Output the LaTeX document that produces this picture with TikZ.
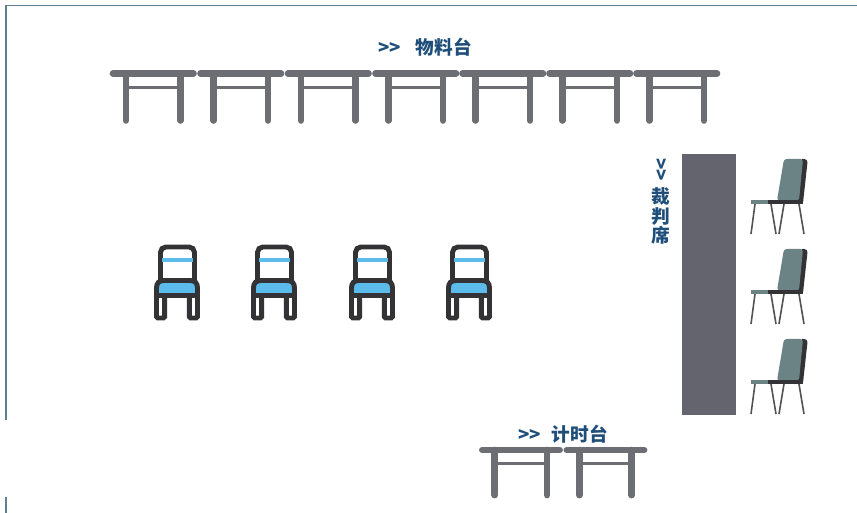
\documentclass[tikz,border=0pt]{standalone}
\usepackage{fontspec}
\usepackage{xcolor}
\setmainfont{Noto Sans CJK SC}
\usetikzlibrary{positioning}
\definecolor{labelblue}{RGB}{30, 78, 121}
\definecolor{deskgray}{RGB}{109, 110, 116}
\definecolor{benchgray}{RGB}{99, 100, 110}
\definecolor{chairline}{RGB}{51, 51, 53}
\definecolor{chairblue}{RGB}{91, 188, 236}
\definecolor{chairgreen}{RGB}{108, 131, 134}
\definecolor{frameblue}{RGB}{96, 128, 145}
\tikzset{
    zonelabel/.style={text=labelblue, font=\bfseries\fontsize{14pt}{14.6pt}\selectfont, inner sep=0pt, align=center},
    deskunit/.pic={
        \draw[deskgray, line width=5pt, line cap=round] (17.5,0) -- (17.5,47);
        \draw[deskgray, line width=5pt, line cap=round] (72,0) -- (72,47);
        \draw[deskgray, line width=2.8pt] (17.5,14) -- (72,14);
        \draw[deskgray, line width=5pt, line cap=round] (4.5,0) -- (85,0);
    },
    bluechair/.pic={
        \draw[chairline, line width=3.7pt, fill=white, rounded corners=1pt] (2.5,48) rectangle (10.7,73);
        \draw[chairline, line width=3.7pt, fill=white, rounded corners=1pt] (35.3,48) rectangle (43.5,73);
        \draw[chairline, line width=3.7pt, fill=white, rounded corners=4pt] (6.5,40) -- (6.5,2) -- (40.5,2) -- (40.5,40);
        \draw[chairblue, line width=3.2pt] (8,15) -- (39,15);
        \draw[chairline, line width=3.7pt, fill=chairblue] (2.5,50.5) -- (2.5,43) .. controls (2.5,38) and (5,35.5) .. (10,35.5) -- (36,35.5) .. controls (41,35.5) and (43.5,38) .. (43.5,43) -- (43.5,50.5) -- cycle;
    },
    sidechair/.pic={
        \draw[chairline!85, line width=1.2pt] (4,45) -- (0,75);
        \draw[chairline!85, line width=1.2pt] (20,45) -- (25,75);
        \draw[chairline!85, line width=1.2pt] (33,45) -- (28,75);
        \draw[chairline!85, line width=1.2pt] (48,45) -- (53,75);
        \fill[chairline, rounded corners=1pt] (50,0) -- (54.5,0) -- (56.6,2) -- (52,44) -- (46,44) -- cycle;
        \fill[chairgreen, rounded corners=2pt] (33,0) -- (52,0) -- (48,41.5) -- (26,41.5) -- cycle;
        \fill[chairgreen] (0,41) rectangle (16.7,45);
        \fill[chairline] (16.7,41) rectangle (52,45);
    }
}
\begin{document}
\begin{tikzpicture}[x=0.75pt, y=-0.75pt]
    \useasboundingbox (0,0) rectangle (857,513);
    % outline of the room
    \draw[frameblue, line width=0.9pt] (6,420) -- (6,5.5) -- (857,5.5);
    \draw[frameblue, line width=0.9pt] (6,497) -- (6,513);
    % tables along the top
    \foreach \tablex in {108.5,196,283.5,371,458,545,632} {
        \pic at (\tablex,73.5) {deskunit};
    }
    \node[zonelabel] (materiallabel) at (425,47) {>{}>\hspace{0.8em}物料台};
    % candidates
    \foreach \chairx in {154,251,349,446} {
        \pic at (\chairx,245) {bluechair};
    }
    % judges
    \node[fill=benchgray, minimum width=40.5pt, minimum height=195.75pt, inner sep=0pt] (judgebench) at (709,284.5) {};
    \node[zonelabel, rotate=-90] (judgearrow) at (661,170) {>{}>};
    \node[zonelabel, below=4.5pt of judgearrow.east] (judgelabel) {裁\\判\\席};
    \foreach \chairy in {159,249,339} {
        \pic at (751,\chairy) {sidechair};
    }
    % timer tables
    \foreach \tablex in {478,562.5} {
        \pic[scale=0.96] at (\tablex,450) {deskunit};
    }
    \node[zonelabel] (timerlabel) at (563,434) {>{}>\hspace{0.6em}计时台};
\end{tikzpicture}
\end{document}
